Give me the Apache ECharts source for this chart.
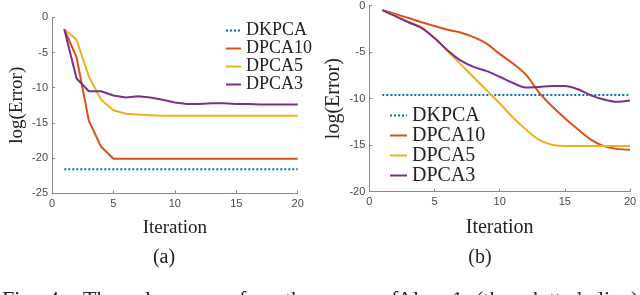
<!DOCTYPE html>
<html>
<head>
<meta charset="utf-8">
<script src="https://cdn.jsdelivr.net/npm/echarts@6/dist/echarts.min.js"></script>
<style>
html,body{margin:0;padding:0;background:#fff;}
#c{width:640px;height:295px;}
</style>
</head>
<body>
<div id="c"></div>
<script>
// ---- data ----
const iterations = [1,2,3,4,5,6,7,8,9,10,11,12,13,14,15,16,17,18,19,20];
const seriesNames = ['DKPCA','DPCA10','DPCA5','DPCA3'];

// panel (a)
const aDKPCA  = [-21.6,-21.6,-21.6,-21.6,-21.6,-21.6,-21.6,-21.6,-21.6,-21.6,-21.6,-21.6,-21.6,-21.6,-21.6,-21.6,-21.6,-21.6,-21.6,-21.6];
const aDPCA10 = [-1.7,-5.7,-14.7,-18.4,-20.1,-20.1,-20.1,-20.1,-20.1,-20.1,-20.1,-20.1,-20.1,-20.1,-20.1,-20.1,-20.1,-20.1,-20.1,-20.1];
const aDPCA5  = [-1.7,-3.2,-8.4,-11.7,-13.2,-13.7,-13.8,-13.9,-14.0,-14.0,-14.0,-14.0,-14.0,-14.0,-14.0,-14.0,-14.0,-14.0,-14.0,-14.0];
const aDPCA3  = [-1.7,-8.7,-10.5,-10.5,-11.1,-11.4,-11.2,-11.4,-11.7,-12.1,-12.3,-12.3,-12.2,-12.2,-12.3,-12.3,-12.4,-12.4,-12.4,-12.4];

// panel (b)
const bDKPCA  = [-9.6,-9.6,-9.6,-9.6,-9.6,-9.6,-9.6,-9.6,-9.6,-9.6,-9.6,-9.6,-9.6,-9.6,-9.6,-9.6,-9.6,-9.6,-9.6,-9.6];
const bDPCA10 = [-0.5,-0.9,-1.35,-1.8,-2.2,-2.6,-2.9,-3.4,-4.1,-5.2,-6.2,-7.4,-9.3,-10.8,-12.1,-13.3,-14.4,-15.1,-15.4,-15.5];
const bDPCA5  = [-0.5,-1.1,-1.75,-2.35,-3.5,-4.9,-6.3,-7.7,-9.1,-10.5,-12.0,-13.3,-14.4,-14.95,-15.1,-15.1,-15.1,-15.1,-15.1,-15.1];
const bDPCA3  = [-0.5,-1.15,-1.8,-2.4,-3.5,-4.8,-5.9,-6.6,-7.05,-7.65,-8.3,-8.8,-8.75,-8.65,-8.65,-9.0,-9.65,-10.1,-10.35,-10.2];

const xTicks = {min:0, max:20, interval:5};
const aYTicks = {min:-25, max:0, interval:5};
const bYTicks = {min:-20, max:0, interval:5};

const captionWords = [
  ['Fig.',2],['4:',48],['The',83],['loss',145],['of',228],['the',285],['error',326],
  ['of',380],['Alg.',397],['1',452],['(the',476],['dotted',527],['line)',598]
];

// ---- style ----
const colors = ['#0072BD','#D95319','#EDB120','#7E2F8E'];
const serif = 'Liberation Serif';
const sans = 'Liberation Sans';

function pairs(ys){ return iterations.map((x,i)=>[x, ys[i]]); }

function mkX(grid, gap, fs){
  return {
    gridIndex: grid, type:'value', min:xTicks.min, max:xTicks.max, interval:xTicks.interval,
    axisLine:{show:true, onZero:false, lineStyle:{color:'#8a8a8a', width:1}},
    axisTick:{show:true, inside:true, length:3, lineStyle:{color:'#8a8a8a'}},
    splitLine:{show:false},
    axisLabel:{color:'#4a4a4a', fontSize:11, fontFamily:sans, margin:5},
    name:'Iteration', nameLocation:'middle', nameGap:gap,
    nameTextStyle:{fontFamily:serif, fontSize:fs, color:'#222'}
  };
}
function mkY(grid, t, gap, fs){
  return {
    gridIndex: grid, type:'value', min:t.min, max:t.max, interval:t.interval,
    axisLine:{show:true, onZero:false, lineStyle:{color:'#8a8a8a', width:1}},
    axisTick:{show:true, inside:true, length:3, lineStyle:{color:'#8a8a8a'}},
    splitLine:{show:false},
    axisLabel:{color:'#4a4a4a', fontSize:11, fontFamily:sans, margin:4},
    name:'log(Error)', nameLocation:'middle', nameGap:gap, nameRotate:90,
    nameTextStyle:{fontFamily:serif, fontSize:fs, color:'#222'}
  };
}
function mkSeries(name, ys, idx, grid, smooth){
  const dotted = idx === 0;
  return {
    name, type:'line', xAxisIndex:grid, yAxisIndex:grid,
    data: pairs(ys), showSymbol:false, symbol:'none', smooth: smooth ? 0.35 : false,
    lineStyle:{color:colors[idx], width:2, type: dotted ? [2,2] : 'solid'},
    itemStyle:{color:colors[idx]},
    emphasis:{disabled:true}, animation:false
  };
}

const aData = [aDKPCA,aDPCA10,aDPCA5,aDPCA3];
const bData = [bDKPCA,bDPCA10,bDPCA5,bDPCA3];
const series = [];
seriesNames.forEach((n,i)=>series.push(mkSeries(n, aData[i], i, 0, false)));
seriesNames.forEach((n,i)=>series.push(mkSeries(n, bData[i], i, 1, true)));

const graphics = [
  {type:'text', style:{text:'(a)', font:'20px '+serif, fill:'#222', x:164, y:258, align:'center', verticalAlign:'middle'}},
  {type:'text', style:{text:'(b)', font:'20px '+serif, fill:'#222', x:480, y:258, align:'center', verticalAlign:'middle'}}
];
captionWords.forEach(w=>{
  graphics.push({type:'text', style:{text:w[0], font:'22px '+serif, fill:'#222', x:w[1], y:300, align:'left', verticalAlign:'middle'}});
});

const legendCommon = {orient:'vertical', padding:0, itemGap:0, itemHeight:10, selectedMode:false,
  data:seriesNames, itemStyle:{color:'rgba(0,0,0,0)', borderWidth:0}};

const chart = echarts.init(document.getElementById('c'), null, {renderer:'canvas'});
chart.setOption({
  animation:false,
  backgroundColor:'#fff',
  grid:[
    {left:52, top:17.3, width:245.7, height:176},
    {left:369.3, top:5, width:260.7, height:186.7}
  ],
  xAxis:[mkX(0, 25, 19), mkX(1, 26, 20)],
  yAxis:[mkY(0, aYTicks, 25, 19), mkY(1, bYTicks, 26, 20)],
  legend:[
    Object.assign({}, legendCommon, {left:225, top:21.5, itemWidth:15,
      textStyle:{fontFamily:serif, fontSize:18, color:'#222', lineHeight:17}}),
    Object.assign({}, legendCommon, {left:389, top:105.5, itemWidth:17,
      textStyle:{fontFamily:serif, fontSize:20, color:'#222', lineHeight:19}})
  ],
  series,
  graphic: graphics
});
</script>
</body>
</html>
